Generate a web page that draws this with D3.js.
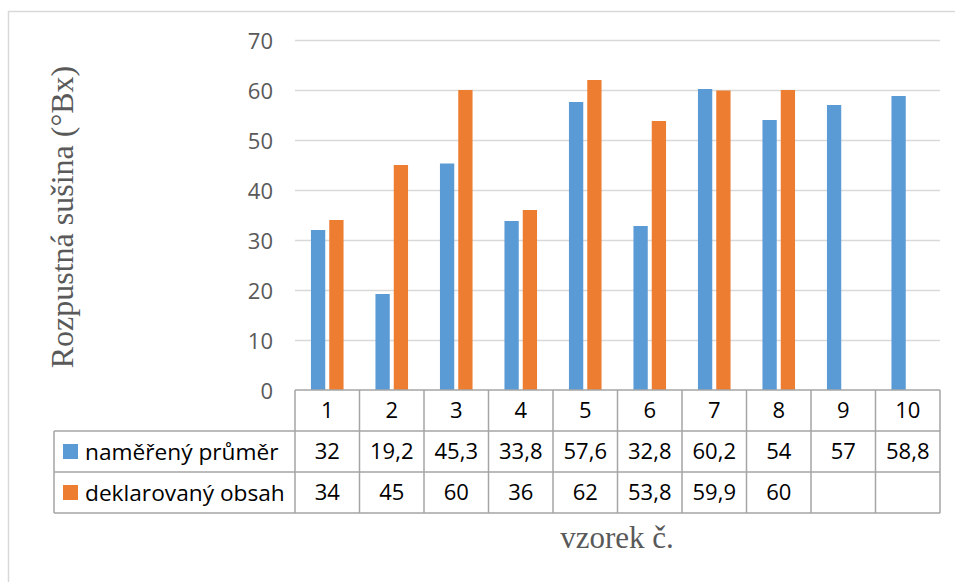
<!DOCTYPE html>
<html>
<head>
<meta charset="utf-8">
<script src="https://cdn.jsdelivr.net/npm/d3@7"></script>
<style>
  html, body { margin: 0; padding: 0; background: #fff; }
  svg { display: block; }
</style>
</head>
<body>
<svg id="chart" width="955" height="582"></svg>
<script>
// Samples and the two measured series (°Bx)
const categories = ["1", "2", "3", "4", "5", "6", "7", "8", "9", "10"];
const seriesNames = ["naměřený průměr", "deklarovaný obsah"];
const measured = [32, 19.2, 45.3, 33.8, 57.6, 32.8, 60.2, 54, 57, 58.8];
const declared = [34, 45, 60, 36, 62, 53.8, 59.9, 60, null, null];
const yTicks = [0, 10, 20, 30, 40, 50, 60, 70];
const colors = ["#5B9BD5", "#ED7D31"];

const series = [measured, declared];
const fmt = v => v == null ? "" : String(v).replace(".", ",");

const svg = d3.select("#chart");

// chart area frame
svg.append("rect")
  .attr("x", 8.5).attr("y", 11.5)
  .attr("width", 1000).attr("height", 700)
  .attr("fill", "#fff").attr("stroke", "#D9D9D9").attr("stroke-width", 1.5);

const plotLeft = 295, plotRight = 940, plotTop = 40, plotBottom = 390;

const x = d3.scaleBand().domain(categories).range([plotLeft, plotRight]);
const xInner = d3.scaleBand().domain(seriesNames)
  .range([0, x.bandwidth()]).paddingInner(0.2186).paddingOuter(0.872);
const y = d3.scaleLinear().domain([0, 70]).range([plotBottom, plotTop]);

// gridlines
svg.append("g").selectAll("line")
  .data(yTicks.filter(t => t > 0))
  .join("line")
  .attr("x1", plotLeft).attr("x2", plotRight)
  .attr("y1", d => y(d) + 0.5).attr("y2", d => y(d) + 0.5)
  .attr("stroke", "#D9D9D9").attr("stroke-width", 1.5);

// y axis labels
const yAxis = d3.axisLeft(y).tickValues(yTicks).tickSize(0).tickPadding(0);
const gy = svg.append("g").attr("transform", `translate(273,0.5)`).call(yAxis);
gy.select(".domain").remove();
gy.selectAll("text")
  .attr("font-family", "'Open Sans', sans-serif")
  .attr("font-size", 22)
  .attr("fill", "#595959")
  .attr("dy", "0.36em");

// bars
seriesNames.forEach((name, si) => {
  svg.append("g").selectAll("rect")
    .data(categories.map((c, i) => ({ c, v: series[si][i] })).filter(d => d.v != null))
    .join("rect")
    .attr("x", d => x(d.c) + xInner(name))
    .attr("width", xInner.bandwidth())
    .attr("y", d => y(d.v))
    .attr("height", d => y(0) - y(d.v))
    .attr("fill", colors[si]);
});

// data table
const rowH = 41;
const tableLeft = 54;
const rows = [plotBottom, plotBottom + rowH, plotBottom + 2 * rowH, plotBottom + 3 * rowH];
const tbl = svg.append("g")
  .attr("stroke", "#A5A5A5").attr("stroke-width", 1.5).attr("fill", "none");

// header row top and horizontal rules
tbl.append("line").attr("x1", plotLeft).attr("x2", plotRight)
  .attr("y1", rows[0]).attr("y2", rows[0]);
rows.slice(1).forEach(r => {
  tbl.append("line").attr("x1", tableLeft).attr("x2", plotRight)
    .attr("y1", r).attr("y2", r);
});
// vertical rules
tbl.append("line").attr("x1", tableLeft).attr("x2", tableLeft)
  .attr("y1", rows[1]).attr("y2", rows[3]);
categories.forEach(c => {
  tbl.append("line").attr("x1", x(c)).attr("x2", x(c))
    .attr("y1", rows[0]).attr("y2", rows[3]);
});
tbl.append("line").attr("x1", plotRight).attr("x2", plotRight)
  .attr("y1", rows[0]).attr("y2", rows[3]);

const textFont = "'Open Sans', sans-serif";

// category header
svg.append("g").selectAll("text")
  .data(categories)
  .join("text")
  .attr("x", d => x(d) + x.bandwidth() / 2)
  .attr("y", rows[0] + rowH / 2)
  .attr("dy", "0.36em")
  .attr("text-anchor", "middle")
  .attr("font-family", textFont).attr("font-size", 22)
  .attr("fill", "#000")
  .text(d => d);

// values and legend keys
series.forEach((vals, si) => {
  const cy = rows[si + 1] + rowH / 2;
  svg.append("g").selectAll("text")
    .data(categories.map((c, i) => ({ c, v: vals[i] })))
    .join("text")
    .attr("x", d => x(d.c) + x.bandwidth() / 2)
    .attr("y", cy)
    .attr("dy", "0.36em")
    .attr("text-anchor", "middle")
    .attr("font-family", textFont).attr("font-size", 22)
    .attr("fill", "#000")
    .text(d => fmt(d.v));

  svg.append("rect")
    .attr("x", 63).attr("y", cy - 7.5)
    .attr("width", 15).attr("height", 15)
    .attr("fill", colors[si]);
  svg.append("text")
    .attr("x", 85).attr("y", cy)
    .attr("dy", "0.36em")
    .attr("font-family", textFont).attr("font-size", 22.7)
    .attr("fill", "#000")
    .text(seriesNames[si]);
});

// axis titles
svg.append("text")
  .attr("transform", "translate(73,217) rotate(-90)")
  .attr("text-anchor", "middle")
  .attr("font-family", "'Liberation Serif', 'Times New Roman', serif")
  .attr("font-size", 32)
  .attr("fill", "#595959")
  .text("Rozpustná sušina (°Bx)");

svg.append("text")
  .attr("x", 617).attr("y", 548)
  .attr("text-anchor", "middle")
  .attr("font-family", "'Liberation Serif', 'Times New Roman', serif")
  .attr("font-size", 31)
  .attr("fill", "#595959")
  .text("vzorek č.");
</script>
</body>
</html>
